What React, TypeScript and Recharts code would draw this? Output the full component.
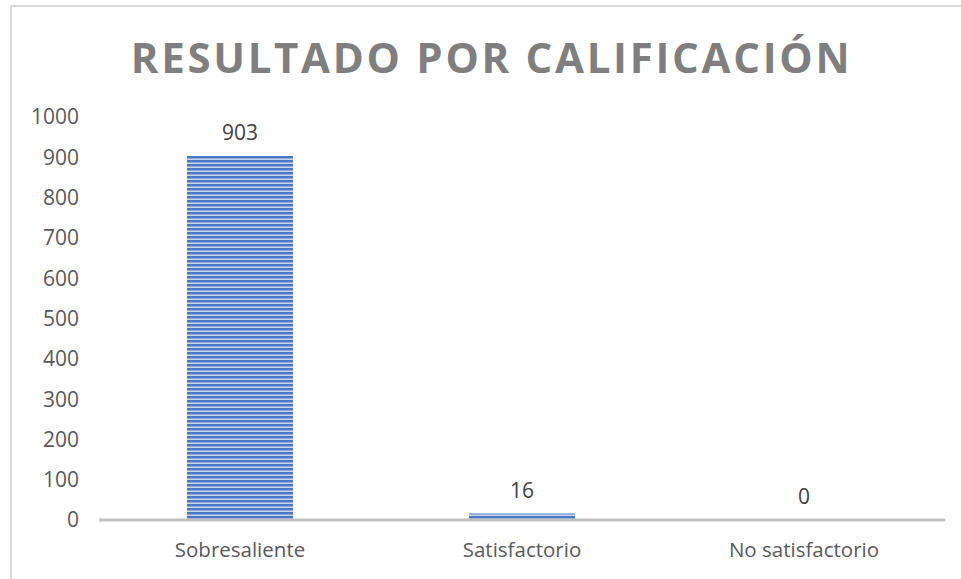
import React from "react";
import { ComposedChart, Bar, Line, XAxis, YAxis, LabelList } from "recharts";

const categories = ["Sobresaliente", "Satisfactorio", "No satisfactorio"];
const values = [903, 16, 0];
const yTicks = [0, 100, 200, 300, 400, 500, 600, 700, 800, 900, 1000];
const title = "RESULTADO POR CALIFICACIÓN";

const data = categories.map((name, i) => ({ name, value: values[i] }));

const FONT = "'Open Sans', 'Noto Sans', sans-serif";

export default function App() {
  return (
    <div style={{ position: "absolute", left: 0, top: 0, width: 961, height: 579, overflow: "hidden", background: "#fff" }}>
      <div
        style={{
          position: "absolute",
          left: 10,
          top: 5,
          width: 1200,
          height: 1000,
          border: "2px solid #d9d9d9",
          boxSizing: "border-box",
        }}
      />
      <div
        style={{
          position: "absolute",
          left: 0,
          top: 32,
          width: 983,
          textAlign: "center",
          fontFamily: FONT,
          fontWeight: 700,
          fontSize: 42,
          letterSpacing: 2.7,
          color: "#7f7f7f",
          lineHeight: "50px",
          whiteSpace: "nowrap",
        }}
      >
        {title}
      </div>
      <div style={{ position: "absolute", left: 0, top: 0 }}>
        <ComposedChart
          width={961}
          height={579}
          data={data}
          margin={{ top: 117, right: 16, bottom: 29, left: 0 }}
          barCategoryGap="31.2%"
        >
          <defs>
            <pattern id="stripes" x="0" y="0" width="4" height="4" patternUnits="userSpaceOnUse">
              <rect x="0" y="0" width="4" height="4" fill="#c5d4ef" />
              <rect x="0" y="0" width="4" height="2" fill="#4a77c6" />
              <rect x="0" y="2" width="4" height="1" fill="#8eaade" />
            </pattern>
          </defs>
          <XAxis
            dataKey="name"
            height={30}
            axisLine={{ stroke: "#bfbfbf", strokeWidth: 3 }}
            tickLine={false}
            tickSize={0}
            tickMargin={22}
            tick={{ fill: "#595959", fontSize: 20.5, fontFamily: FONT }}
            interval={0}
          />
          <YAxis
            domain={[0, 1000]}
            ticks={yTicks}
            width={99}
            axisLine={false}
            tickLine={false}
            tickSize={0}
            tickMargin={20}
            tick={{ fill: "#595959", fontSize: 21, fontFamily: FONT }}
            interval={0}
          />
          <Bar dataKey="value" fill="url(#stripes)" isAnimationActive={false} />
          <Line
            dataKey="value"
            stroke="none"
            dot={false}
            activeDot={false}
            isAnimationActive={false}
          >
            <LabelList
              dataKey="value"
              position="top"
              offset={16}
              fill="#404040"
              fontSize={21}
              fontFamily={FONT}
            />
          </Line>
        </ComposedChart>
      </div>
    </div>
  );
}
